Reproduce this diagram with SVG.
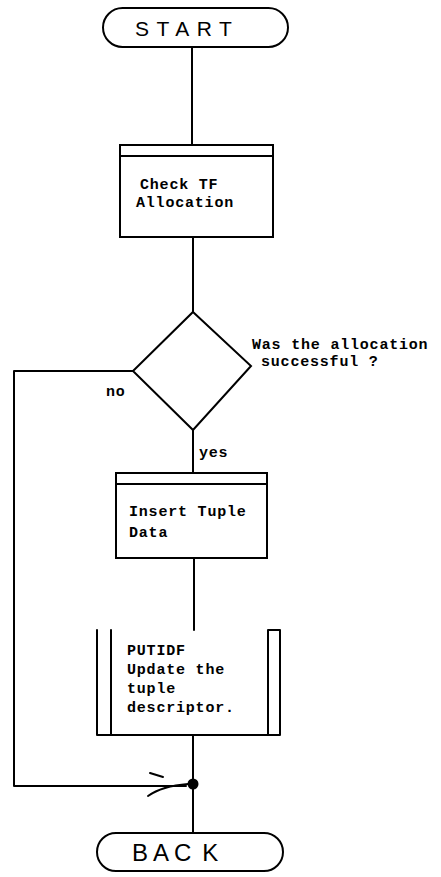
<svg xmlns="http://www.w3.org/2000/svg" width="441" height="877" viewBox="0 0 441 877">
<style>
.s{fill:none;stroke:#000;stroke-width:2;stroke-linecap:round;stroke-linejoin:round}
.b{fill:#fff;stroke:#000;stroke-width:2}
.t{font-family:"Liberation Mono","DejaVu Sans Mono",monospace;font-weight:bold;font-size:15px;letter-spacing:0.8px;fill:#000}
.h{font-family:"Liberation Sans",Arial,sans-serif;fill:#000}
</style>
<rect width="441" height="877" fill="#fff"/>
<g id="connectors">
<path class="s" d="M192,47 V145"/>
<path class="s" d="M193,237 V312"/>
<path class="s" d="M193,430 V473"/>
<path class="s" d="M194,558 V630"/>
<path class="s" d="M193,735 V833"/>
<path class="s" d="M133,371 H14 V786 H186"/>
<path class="s" d="M150,773 L163,777"/>
<path class="s" d="M148,796 Q162,786 188,784"/>
<circle cx="193" cy="784" r="5.5" fill="#000"/>
<text class="t" x="106" y="396">no</text>
<text class="t" x="199" y="457">yes</text>
</g>
<g id="start">
<rect class="b" x="103" y="8" width="185" height="39" rx="19.5"/>
<text class="h" x="135" y="36" font-size="21" letter-spacing="7.5">START</text>
</g>
<g id="check">
<rect class="b" x="120" y="145" width="153" height="92"/>
<path class="s" d="M120,156 H273"/>
<text class="t" x="140" y="189">Check TF</text>
<text class="t" x="136" y="207">Allocation</text>
</g>
<g id="decision">
<polygon class="b" points="193,312 251,366 193,430 133,371"/>
<text class="t" x="252" y="349">Was the allocation</text>
<text class="t" x="261" y="366">successful ?</text>
</g>
<g id="insert">
<rect class="b" x="116" y="473" width="151" height="85"/>
<path class="s" d="M116,484 H267"/>
<text class="t" x="129" y="516">Insert Tuple</text>
<text class="t" x="129" y="537">Data</text>
</g>
<g id="putidf">
<path class="s" d="M97,630 V735 H280 V630 H268 V735 M111,630 V735"/>
<text class="t" x="127" y="655">PUTIDF</text>
<text class="t" x="127" y="674">Update the</text>
<text class="t" x="127" y="693">tuple</text>
<text class="t" x="127" y="712">descriptor.</text>
</g>
<g id="back">
<rect class="b" x="97" y="833" width="186" height="38" rx="19"/>
<text class="h" x="132" y="861" font-size="24" letter-spacing="5">BAC<tspan dx="6">K</tspan></text>
</g>
</svg>
